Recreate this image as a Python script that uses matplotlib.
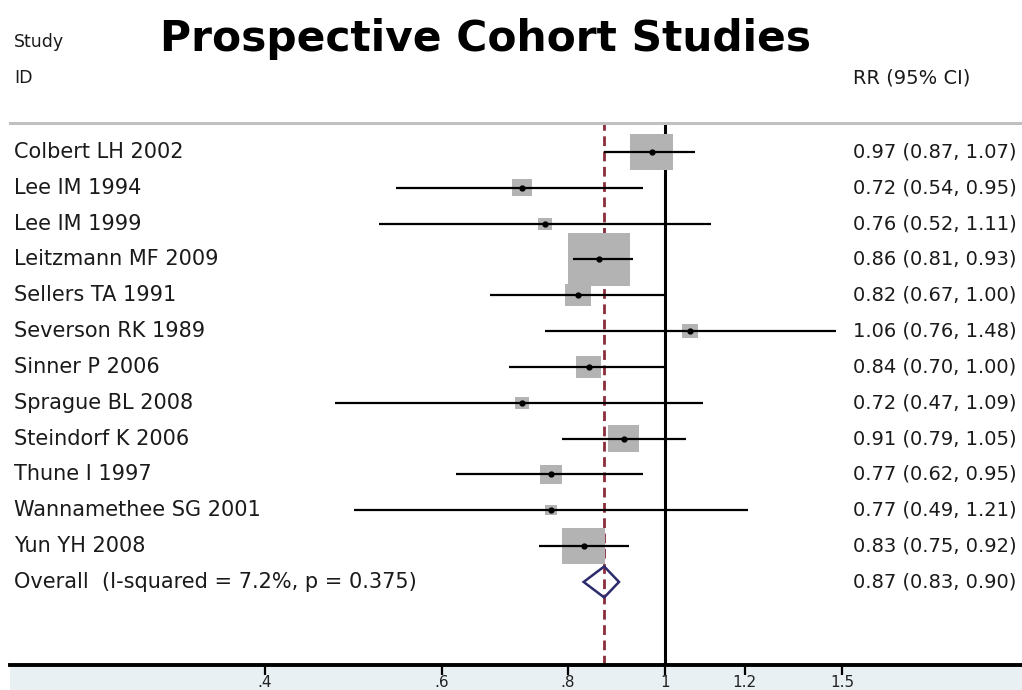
import numpy as np
import matplotlib
matplotlib.use("Agg")
import matplotlib.pyplot as plt
from matplotlib.patches import Polygon, Rectangle

# Data
studies = ["Colbert LH 2002", "Lee IM 1994", "Lee IM 1999", "Leitzmann MF 2009",
           "Sellers TA 1991", "Severson RK 1989", "Sinner P 2006", "Sprague BL 2008",
           "Steindorf K 2006", "Thune I 1997", "Wannamethee SG 2001", "Yun YH 2008"]
rr = [0.97, 0.72, 0.76, 0.86, 0.82, 1.06, 0.84, 0.72, 0.91, 0.77, 0.77, 0.83]
lower = [0.87, 0.54, 0.52, 0.81, 0.67, 0.76, 0.70, 0.47, 0.79, 0.62, 0.49, 0.75]
upper = [1.07, 0.95, 1.11, 0.93, 1.00, 1.48, 1.00, 1.09, 1.05, 0.95, 1.21, 0.92]
weights = [16.1, 3.5, 1.7, 33.5, 5.9, 2.2, 5.4, 1.7, 8.4, 4.2, 1.3, 16.1]

overall_label = "Overall  (I-squared = 7.2%, p = 0.375)"
overall_rr, overall_lo, overall_hi = 0.87, 0.83, 0.90

xticks = [0.4, 0.6, 0.8, 1.0, 1.2, 1.5]
xticklabels = [".4", ".6", ".8", "1", "1.2", "1.5"]

W, H = 1022, 690
fig = plt.figure(figsize=(W / 100, H / 100), dpi=100)

def fx(px):
    return px / W

def fy(py):
    return 1 - py / H

# axes from x=10px to right edge, y=123px (top rule) to 665px (axis line)
ax = fig.add_axes([fx(10), fy(665), 1 - fx(10), (665 - 123) / H])
ax.set_xscale("log")
ppl = 436.6  # pixels per ln unit
ax.set_xlim(np.exp((10 - 665) / ppl), np.exp((W - 665) / ppl))
row_px = 35.83
ax.set_ylim((665 - 152) / row_px, (123 - 152) / row_px)

# light band under the axis (behind the axes)
fig.patches.append(Rectangle((fx(10), 0), 1 - fx(10), fy(665), transform=fig.transFigure,
                             facecolor="#e8f0f3", edgecolor="none", zorder=-1))

for s in ["left", "right"]:
    ax.spines[s].set_visible(False)
ax.spines["top"].set_color("#c0c0c0")
ax.spines["top"].set_linewidth(2.2)
ax.spines["bottom"].set_color("black")
ax.spines["bottom"].set_linewidth(2.8)
ax.set_yticks([])
ax.set_xticks(xticks)
ax.set_xticklabels(xticklabels, fontsize=11, color="#222222")
ax.minorticks_off()
ax.tick_params(axis="x", length=7, width=1.6, pad=0.5)

ax.axvline(1, color="black", lw=2.2, zorder=1)
ax.axvline(overall_rr, color="#8B2D3A", lw=2, dashes=(3.5, 2), zorder=1)

rows = np.arange(len(studies))
box_w = 62 * np.sqrt(np.array(weights) / 33.5) / 1.389  # width in points
rect_marker = [(-1.18, -1), (1.18, -1), (1.18, 1), (-1.18, 1), (-1.18, -1)]
ax.scatter(rr, rows, s=box_w ** 2, marker=rect_marker, color="#b3b3b3",
           edgecolors="none", zorder=2)
ax.hlines(rows, lower, upper, color="black", lw=1.6, zorder=3)
ax.plot(rr, rows, "o", color="black", ms=3.5, zorder=4)

yo = len(studies)
dh = 15.5 / row_px
ax.add_patch(Polygon([(overall_lo, yo), (overall_rr, yo - dh), (overall_hi, yo),
                      (overall_rr, yo + dh)], closed=True, facecolor="none",
                     edgecolor="#2B2B6E", lw=1.8, zorder=3))

# text columns
for i, name in enumerate(studies + [overall_label]):
    ypx = 152 + row_px * i
    fig.text(fx(14), fy(ypx), name, fontsize=15, color="#1a1a1a", va="center")
est_text = [f"{r:.2f} ({l:.2f}, {u:.2f})" for r, l, u in zip(rr, lower, upper)]
est_text.append(f"{overall_rr:.2f} ({overall_lo:.2f}, {overall_hi:.2f})")
for i, t in enumerate(est_text):
    ypx = 152 + row_px * i
    fig.text(fx(853), fy(ypx), t, fontsize=14, color="#1a1a1a", va="center")

fig.text(fx(14), fy(42), "Study", fontsize=12.5, color="#1a1a1a", va="center")
fig.text(fx(14), fy(78), "ID", fontsize=12.5, color="#1a1a1a", va="center")
fig.text(fx(853), fy(78), "RR (95% CI)", fontsize=14, color="#1a1a1a", va="center")
fig.text(fx(160), fy(51), "Prospective Cohort Studies", fontsize=30.5,
         fontweight="bold", color="black", va="baseline")

fig.savefig("out.png", dpi=100)
